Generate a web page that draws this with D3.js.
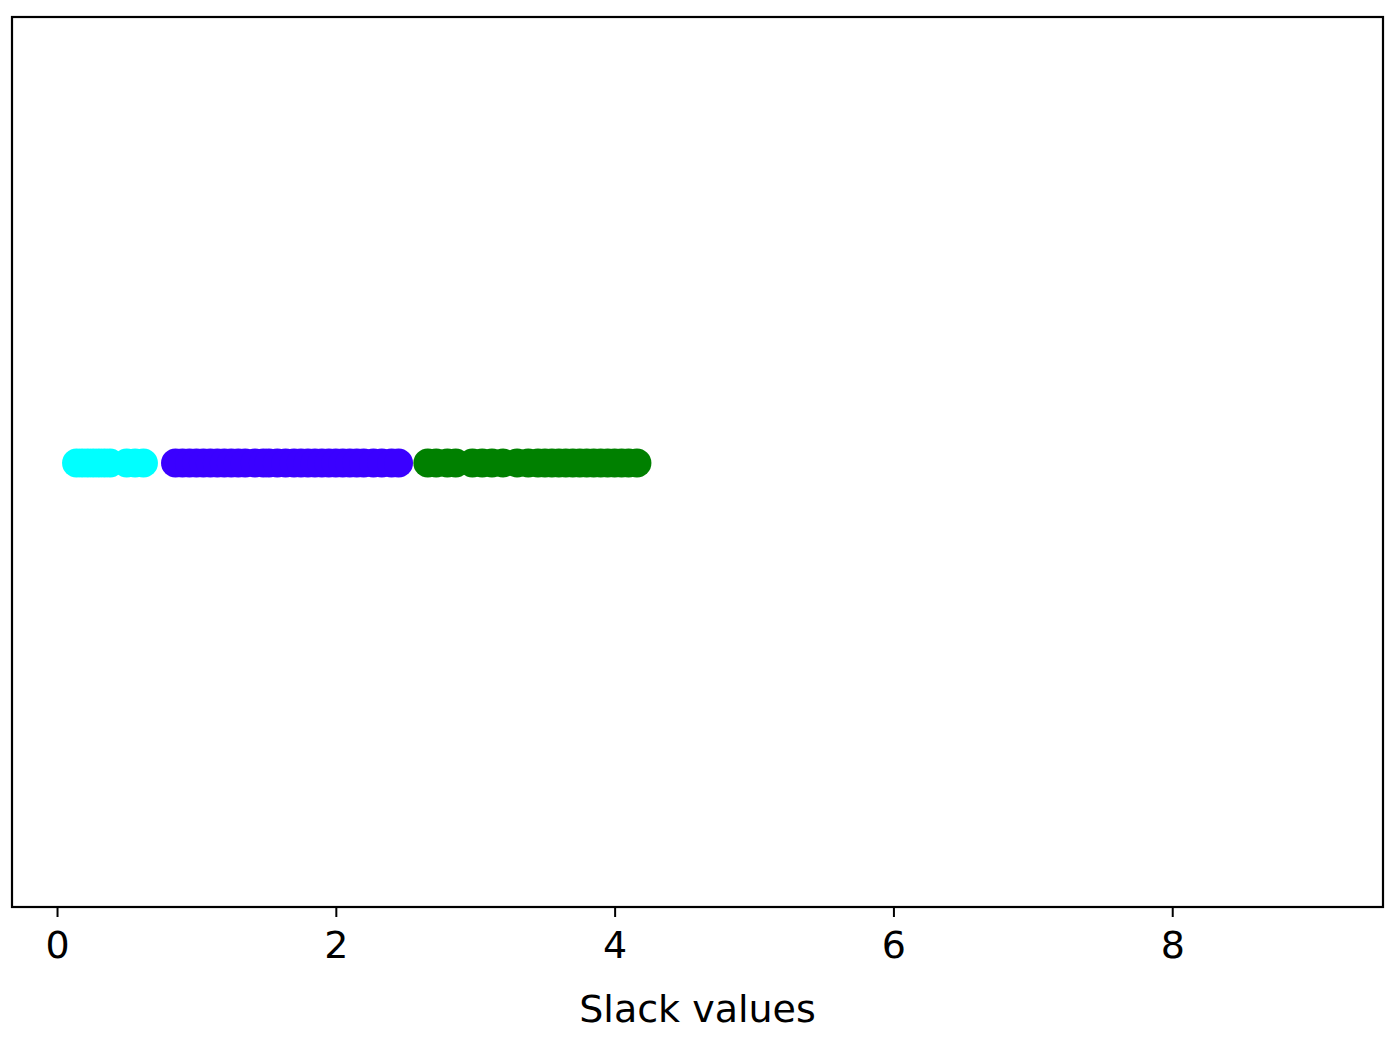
<!DOCTYPE html>
<html><head><meta charset="utf-8">
<script src="https://cdn.jsdelivr.net/npm/d3@7"></script>
<style>body{margin:0;background:#fff}</style></head>
<body><svg id="c" width="1396" height="1040"></svg>
<script>
const cyanVals = [0.14,0.18,0.22,0.26,0.30,0.34,0.38,0.50,0.56,0.62];
const blueVals = [0.85,0.90,0.95,1.00,1.05,1.10,1.15,1.20,1.25,1.30,1.35,1.42,1.48,1.52,1.58,1.64,1.70,1.75,1.80,1.85,1.90,1.95,2.00,2.05,2.10,2.15,2.20,2.27,2.33,2.40,2.45];
const greenVals = [2.66,2.72,2.80,2.86,2.98,3.05,3.12,3.20,3.30,3.38,3.45,3.50,3.55,3.60,3.65,3.70,3.75,3.80,3.85,3.90,3.95,4.00,4.05,4.10,4.16];
const series = [
  {vals: cyanVals, color: "#00ffff"},
  {vals: blueVals, color: "#3a00ff"},
  {vals: greenVals, color: "#008000"}
];
const xTicks = [0,2,4,6,8];
const xLabel = "Slack values";

const svg = d3.select("#c");
const L=12, R=1383, T=17, B=907;
const x = d3.scaleLinear().domain([-0.323, 9.512]).range([L, R]);
const yMid = 463;
series.forEach(s => {
  svg.append("g").selectAll("circle").data(s.vals).join("circle")
    .attr("cx", d => x(d)).attr("cy", yMid)
    .attr("r", 14.5).attr("fill", s.color);
});
svg.append("rect").attr("x",L).attr("y",T).attr("width",R-L).attr("height",B-T)
  .attr("fill","none").attr("stroke","#000").attr("stroke-width",2.2);
const ax = svg.append("g").attr("transform",`translate(0,${B})`)
  .call(d3.axisBottom(x).tickValues(xTicks).tickFormat(d3.format("d")).tickSize(10).tickPadding(14));
ax.select(".domain").remove();
ax.selectAll("line").attr("stroke-width",2);
ax.selectAll("text").attr("font-family","DejaVu Sans").attr("font-size",38).attr("fill","#000");
svg.append("text").attr("x",(L+R)/2).attr("y",1022).attr("text-anchor","middle")
  .attr("font-family","DejaVu Sans").attr("font-size",38).text(xLabel);
</script></body></html>
